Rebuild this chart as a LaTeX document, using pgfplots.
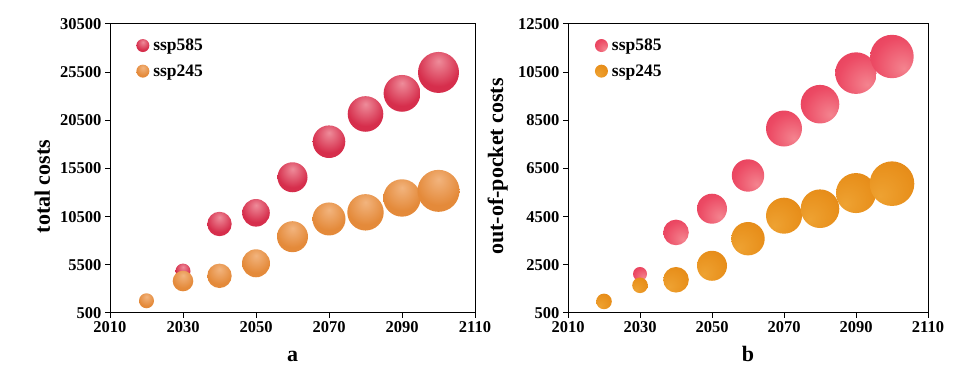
\documentclass[border=0pt]{standalone}
\usepackage{fontspec}
\setmainfont{Liberation Serif}
\usepackage{pgfplots}
\usepackage{pgfplotstable}
\pgfplotsset{compat=1.18}

\definecolor{aR}{HTML}{D62E4C}\definecolor{aRhi}{HTML}{EE8C9A}\definecolor{aRdk}{HTML}{BE1A38}
\definecolor{aO}{HTML}{E48A3A}\definecolor{aOhi}{HTML}{F2B47E}\definecolor{aOdk}{HTML}{D0722A}
\definecolor{bR}{HTML}{EC4A64}\definecolor{bRhi}{HTML}{F4848F}\definecolor{bRdk}{HTML}{E03050}
\definecolor{bO}{HTML}{E8901C}\definecolor{bOhi}{HTML}{EEA232}\definecolor{bOdk}{HTML}{DC7A10}

\pgfdeclareradialshading{saR}{\pgfpoint{0bp}{14bp}}{color(0bp)=(aRhi); color(26bp)=(aR); color(44bp)=(aR); color(50bp)=(aRdk); color(72bp)=(aRdk)}
\pgfdeclareradialshading{saO}{\pgfpoint{0bp}{14bp}}{color(0bp)=(aOhi); color(26bp)=(aO); color(44bp)=(aO); color(50bp)=(aOdk); color(72bp)=(aOdk)}
\pgfdeclareradialshading{sbR}{\pgfpoint{14bp}{-14bp}}{color(0bp)=(bRhi); color(30bp)=(bR); color(60bp)=(bRdk); color(80bp)=(bRdk)}
\pgfdeclareradialshading{sbO}{\pgfpoint{-14bp}{-14bp}}{color(0bp)=(bOhi); color(30bp)=(bO); color(60bp)=(bOdk); color(80bp)=(bOdk)}

\pgfdeclareplotmark{maR}{\shade[shading=saR, draw=none] (0pt,0pt) circle (\pgfplotmarksize);}
\pgfdeclareplotmark{maO}{\shade[shading=saO, draw=none] (0pt,0pt) circle (\pgfplotmarksize);}
\pgfdeclareplotmark{mbR}{\shade[shading=sbR, draw=none] (0pt,0pt) circle (\pgfplotmarksize);}
\pgfdeclareplotmark{mbO}{\shade[shading=sbO, draw=none] (0pt,0pt) circle (\pgfplotmarksize);}

\pgfplotstableread{
x y r
2030 4850 7.5
2040 9740 12.2
2050 10900 13.8
2060 14590 15
2070 18280 16.3
2080 21160 17.8
2090 23300 18.4
2100 25470 20.5
}\aRed
\pgfplotstableread{
x y r
2020 1770 7.5
2030 3820 10.3
2040 4360 12.2
2050 5660 14
2060 8420 15.5
2070 10260 16.5
2080 10950 18.2
2090 12440 18.7
2100 13180 21
}\aOra
\pgfplotstableread{
x y r
2030 2120 7
2040 3845 12.8
2050 4830 15
2060 6210 16.2
2070 8160 18
2080 9170 19.3
2090 10460 20.8
2100 11150 21.7
}\bRed
\pgfplotstableread{
x y r
2020 980 7.8
2030 1650 7.8
2040 1880 12.8
2050 2460 15
2060 3585 16.7
2070 4540 18
2080 4830 19.3
2090 5480 20
2100 5870 22.3
}\bOra

\pgfplotsset{
  bub/.style={
    scatter, only marks, draw=none,
    scatter/use mapped color={draw=none},
    visualization depends on={\thisrow{r} \as \rad},
    scatter/@pre marker code/.append style={/tikz/mark size=\rad},
  },
  common/.style={
    scale only axis, height=289pt,
    xmin=2010, xmax=2110, xtick={2010,2030,...,2110},
    scaled ticks=false,
    tick align=outside, xtick pos=bottom, ytick pos=left,
    major tick length=5pt,
    axis line style={line width=1pt},
    every tick/.style={line width=1pt, black},
    /pgf/number format/assume math mode=true,
    /pgf/number format/set thousands separator={},
    /pgf/number format/fixed,
    tick label style={font=\fontsize{16.5}{17}\selectfont\bfseries},
    every axis x label/.style={at={(rel axis cs:0.5,0)}, anchor=base, yshift=-49pt, font=\fontsize{22}{24}\selectfont\bfseries},
    legend style={draw=none, fill=none, anchor=north west, font=\fontsize{17.5}{19}\selectfont\bfseries, row sep=9.5pt, nodes={inner sep=1.5pt}},
    legend cell align=left,
  },
}

\begin{document}
\begin{tikzpicture}
\useasboundingbox (0,0) rectangle (966pt,371pt);
\begin{axis}[common, at={(110pt,58pt)}, anchor=south west, width=365pt,
  ymin=500, ymax=30500, ytick={500,5500,...,30500},
  xlabel={a}, ylabel={total costs},
  every axis y label/.style={at={(rel axis cs:0,0.4375)}, xshift=-60pt, rotate=90, anchor=base, font=\fontsize{22}{24}\selectfont\bfseries},
  legend style={at={(rel axis cs:0.0635,0.961)}},
]
\addplot[bub, mark=maR, legend image code/.code={\shade[shading=saR, draw=none] (0pt,0pt) circle (6.5pt); \path (9pt,0pt);}] table[x=x,y=y] {\aRed};
\addlegendentry{ssp585}
\addplot[bub, mark=maO, legend image code/.code={\shade[shading=saO, draw=none] (0pt,0pt) circle (6.5pt); \path (9pt,0pt);}] table[x=x,y=y] {\aOra};
\addlegendentry{ssp245}
\end{axis}
\begin{axis}[common, at={(568pt,58pt)}, anchor=south west, width=360pt,
  ymin=500, ymax=12500, ytick={500,2500,...,12500},
  xlabel={b}, ylabel={out-of-pocket costs},
  every axis y label/.style={at={(rel axis cs:0,0.507)}, xshift=-65pt, rotate=90, anchor=base, font=\fontsize{22}{24}\selectfont\bfseries},
  legend style={at={(rel axis cs:0.066,0.961)}},
]
\addplot[bub, mark=mbR, legend image code/.code={\shade[shading=sbR, draw=none] (0pt,0pt) circle (6.5pt); \path (9pt,0pt);}] table[x=x,y=y] {\bRed};
\addlegendentry{ssp585}
\addplot[bub, mark=mbO, legend image code/.code={\shade[shading=sbO, draw=none] (0pt,0pt) circle (6.5pt); \path (9pt,0pt);}] table[x=x,y=y] {\bOra};
\addlegendentry{ssp245}
\end{axis}
\end{tikzpicture}
\end{document}
